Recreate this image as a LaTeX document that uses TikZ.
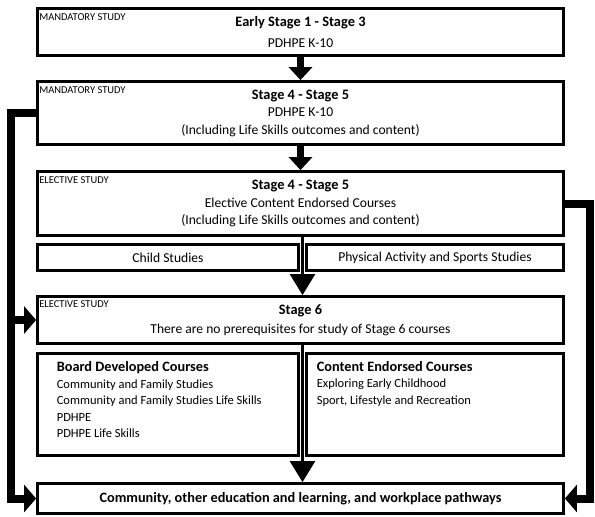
\documentclass[tikz,border=0pt]{standalone}
\usepackage{fontspec}
\setmainfont{Carlito}
\usetikzlibrary{positioning}
\usetikzlibrary{arrows.meta}
\tikzset{
  stagebox/.style={rectangle,draw,line width=2.8pt,minimum width=526pt,
                   align=center,inner sep=0pt,
                   font=\fontsize{13.6}{17.5}\selectfont},
  optionbox/.style={rectangle,draw,line width=2.8pt,minimum height=26pt,
                    inner sep=0pt,font=\fontsize{13.6}{15}\selectfont},
  coursebox/.style={rectangle,draw,line width=2.8pt,minimum height=102pt,
                    inner sep=0pt},
  tag/.style={anchor=north west,inner sep=0pt,
              font=\fontsize{10.5}{12}\selectfont},
  courselist/.style={anchor=north west,align=left,inner sep=0pt,
                     font=\fontsize{12.5}{16.5}\selectfont},
  downflow/.style={line width=7pt,-{Triangle[width=23pt,length=13pt]}},
  gapflow/.style={line width=2.5pt,-{Triangle[width=25pt,length=21pt]}},
  loopflow/.style={line width=8pt,line join=miter,
                   -{Triangle[width=27pt,length=12pt]}},
}

\begin{document}
\begin{tikzpicture}[x=1pt,y=-1pt]
    \useasboundingbox (0,0) rectangle (595,517);

    % Stages
    \node[stagebox,minimum height=47pt] (es) at (300.5,32)
        {\fontsize{14.4}{17.5}\selectfont\textbf{Early Stage 1 - Stage 3}\\[3pt]PDHPE K-10};
    \node[stagebox,minimum height=63pt] (s45m) at (300.5,113)
        {\fontsize{14.4}{17.5}\selectfont\textbf{Stage 4 - Stage 5}\\PDHPE K-10\\(Including Life Skills outcomes and content)};
    \node[stagebox,minimum height=64pt] (s45e) at (300.5,203.5)
        {\fontsize{14.4}{17.5}\selectfont\textbf{Stage 4 - Stage 5}\\Elective Content Endorsed Courses\\(Including Life Skills outcomes and content)};
    \node[stagebox,minimum height=47pt] (s6) at (300.5,320)
        {\fontsize{14.4}{17.5}\selectfont\textbf{Stage 6}\\[2pt]There are no prerequisites for study of Stage 6 courses};
    \node[stagebox,minimum height=30pt,font=\fontsize{14.3}{16}\selectfont\bfseries]
        (pathways) at (300.5,498.5)
        {Community, other education and learning, and workplace pathways};

    % Study tags
    \node[tag,below right=6.5pt and 3pt of es.north west]   (estag)   {MANDATORY STUDY};
    \node[tag,below right=6.5pt and 3pt of s45m.north west] (s45mtag) {MANDATORY STUDY};
    \node[tag,below right=6.5pt and 3pt of s45e.north west] (s45etag) {ELECTIVE STUDY};
    \node[tag,below right=5pt and 3pt of s6.north west]     (s6tag)   {ELECTIVE STUDY};

    % Stage 4 - 5 elective options
    \node[optionbox,minimum width=261pt] (child) at (168,257.5) {Child Studies};
    \node[optionbox,minimum width=257pt] (pass)  at (435,257.5) {Physical Activity and Sports Studies};

    % Stage 6 courses
    \node[coursebox,minimum width=261pt] (bdc) at (168,404.5) {};
    \node[coursebox,minimum width=257pt] (cec) at (435,404.5) {};
    \node[courselist,below right=9.5pt and 20.5pt of bdc.north west] (bdclist)
        {{\fontsize{14.3}{18}\selectfont\bfseries Board Developed Courses}\\
         Community and Family Studies\\
         Community and Family Studies Life Skills\\
         PDHPE\\
         PDHPE Life Skills};
    \node[courselist,below right=9pt and 11.5pt of cec.north west] (ceclist)
        {{\fontsize{14.3}{18}\selectfont\bfseries Content Endorsed Courses}\\
         Exploring Early Childhood\\
         Sport, Lifestyle and Recreation};

    % Main flow
    \draw[downflow] (es) -- (s45m);
    \draw[downflow] (s45m) -- (s45e);
    \draw[gapflow] ([xshift=2pt]s45e.south) -- ([xshift=2pt]s6.north);
    \draw[gapflow] ([xshift=2pt]s6.south) -- ([xshift=2pt]pathways.north);

    % Side flows
    \coordinate (leftbend)  at ([xshift=-25pt]s45m.west);
    \coordinate (rightbend) at ([xshift=25pt]s45e.east);
    \draw[loopflow] (s45m.west) -- (leftbend) |- (s6.west);
    \draw[loopflow] (s45m.west) -- (leftbend) |- (pathways.west);
    \draw[loopflow] (s45e.east) -- (rightbend) |- (pathways.east);
\end{tikzpicture}
\end{document}
